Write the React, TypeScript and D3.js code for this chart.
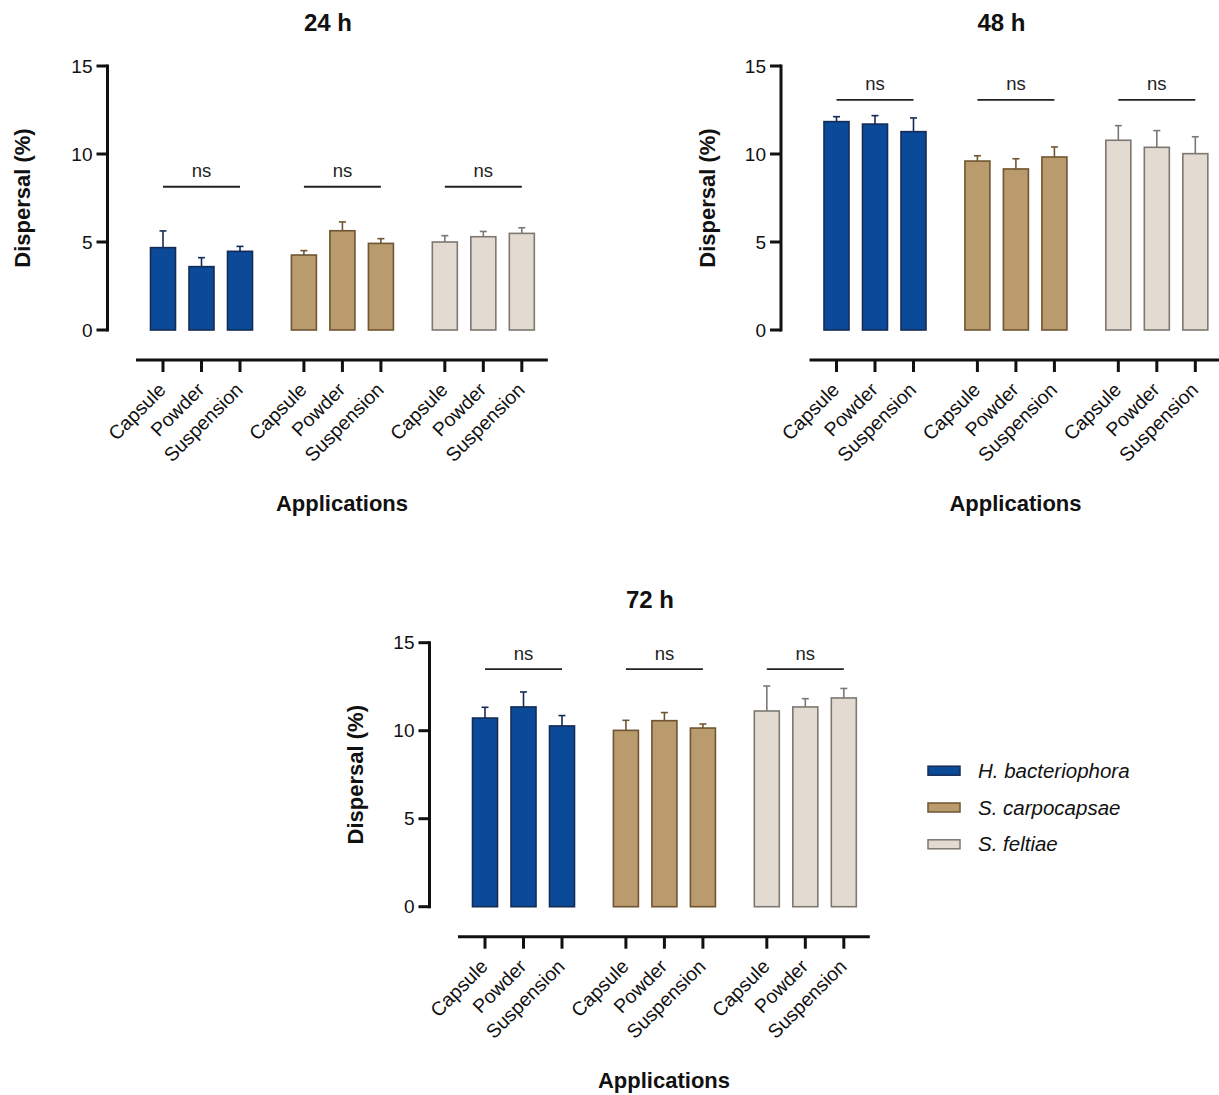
import React from "react";
import * as d3 from "d3";

// Categories and labels
const applications = ["Capsule", "Powder", "Suspension"];
const species = ["H. bacteriophora", "S. carpocapsae", "S. feltiae"];
const timepoints = ["24 h", "48 h", "72 h"];
const yTicks = [0, 5, 10, 15];

// Mean dispersal (%) per species (rows) and application (columns)
const mean24 = [
  [4.68, 3.6, 4.47],
  [4.26, 5.64, 4.92],
  [5.0, 5.3, 5.49],
];
const err24 = [
  [0.95, 0.51, 0.28],
  [0.25, 0.5, 0.27],
  [0.36, 0.3, 0.32],
];
const mean48 = [
  [11.84, 11.7, 11.27],
  [9.6, 9.15, 9.83],
  [10.78, 10.38, 10.02],
];
const err48 = [
  [0.28, 0.48, 0.78],
  [0.3, 0.58, 0.57],
  [0.83, 0.95, 0.96],
];
const mean72 = [
  [10.72, 11.35, 10.27],
  [10.02, 10.57, 10.15],
  [11.12, 11.35, 11.86],
];
const err72 = [
  [0.61, 0.85, 0.59],
  [0.57, 0.46, 0.23],
  [1.42, 0.47, 0.54],
];
// Height of the "ns" comparison bracket in each panel
const nsLevel = [8.14, 13.07, 13.5];
const nsLabel = "ns";

const fills = ["#0a4a98", "#b99b6e", "#e3dbd1"];
const strokes = ["#142c55", "#6f5531", "#7c7771"];

const FONT = "'Liberation Sans', Arial, Helvetica, sans-serif";

type PanelProps = {
  title: string;
  means: number[][];
  errs: number[][];
  ns: number;
  axisX: number;
  y0: number;
  yTitleX: number;
};

const Panel = ({ title, means, errs, ns, axisX, y0, yTitleX }: PanelProps) => {
  const y = d3.scaleLinear().domain([0, 15]).range([y0, y0 - 264]);
  const slot = 38.5;
  const groupStride = 3.66;
  const first = axisX + 55.5;
  const x = d3
    .scaleLinear()
    .domain([0, 1])
    .range([first, first + slot]);
  const pos = (g: number, i: number) => x(g * groupStride + i);
  const barW = 25;
  const xAxisY = y0 + 30;
  const lastPos = pos(species.length - 1, applications.length - 1);

  return (
    <g>
      <text
        x={axisX + 220.5}
        y={y(15) - 35}
        textAnchor="middle"
        fontFamily={FONT}
        fontWeight="bold"
        fontSize={24}
        fill="#111"
      >
        {title}
      </text>

      {/* y axis */}
      <line x1={axisX} x2={axisX} y1={y(15) - 1.5} y2={y(0) + 1.5} stroke="#111" strokeWidth={3} />
      {yTicks.map((t) => (
        <g key={t}>
          <line x1={axisX - 11} x2={axisX} y1={y(t)} y2={y(t)} stroke="#111" strokeWidth={3} />
          <text
            x={axisX - 15}
            y={y(t) + 6.5}
            textAnchor="end"
            fontFamily={FONT}
            fontSize={19}
            fill="#111"
          >
            {t}
          </text>
        </g>
      ))}
      <text
        transform={`translate(${yTitleX},${y(7.5)}) rotate(-90)`}
        textAnchor="middle"
        fontFamily={FONT}
        fontWeight="bold"
        fontSize={22}
        fill="#111"
      >
        Dispersal (%)
      </text>

      {/* bars with upper error bars */}
      {means.map((row, g) =>
        row.map((v, i) => {
          const cx = pos(g, i);
          const top = y(v);
          const et = y(v + errs[g][i]);
          return (
            <g key={`${g}-${i}`}>
              <line x1={cx} x2={cx} y1={top} y2={et} stroke={strokes[g]} strokeWidth={1.6} />
              <line x1={cx - 3.5} x2={cx + 3.5} y1={et} y2={et} stroke={strokes[g]} strokeWidth={1.6} />
              <rect
                x={cx - barW / 2}
                y={top}
                width={barW}
                height={y(0) - top}
                fill={fills[g]}
                stroke={strokes[g]}
                strokeWidth={1.6}
              />
            </g>
          );
        })
      )}

      {/* ns brackets */}
      {species.map((s, g) => (
        <g key={s}>
          <line
            x1={pos(g, 0)}
            x2={pos(g, 2)}
            y1={y(ns)}
            y2={y(ns)}
            stroke="#222"
            strokeWidth={1.8}
          />
          <text
            x={pos(g, 1)}
            y={y(ns) - 9.5}
            textAnchor="middle"
            fontFamily={FONT}
            fontSize={18.5}
            fill="#222"
          >
            {nsLabel}
          </text>
        </g>
      ))}

      {/* x axis */}
      <line x1={x(0) - 27} x2={lastPos + 26} y1={xAxisY} y2={xAxisY} stroke="#111" strokeWidth={3} />
      {species.map((s, g) =>
        applications.map((a, i) => {
          const cx = pos(g, i);
          return (
            <g key={`${s}-${a}`}>
              <line x1={cx} x2={cx} y1={xAxisY} y2={xAxisY + 12} stroke="#111" strokeWidth={3} />
              <text
                transform={`translate(${cx + 4},${xAxisY + 31}) rotate(-45)`}
                textAnchor="end"
                fontFamily={FONT}
                fontSize={19.5}
                fill="#111"
              >
                {a}
              </text>
            </g>
          );
        })
      )}
      <text
        x={axisX + 234.5}
        y={y0 + 181}
        textAnchor="middle"
        fontFamily={FONT}
        fontWeight="bold"
        fontSize={22}
        fill="#111"
      >
        Applications
      </text>
    </g>
  );
};

const Legend = ({ left, top }: { left: number; top: number }) => (
  <g>
    {species.map((s, g) => {
      const cy = top + g * 36.8;
      return (
        <g key={s}>
          <rect x={left} y={cy - 4.5} width={32} height={9} fill={fills[g]} stroke={strokes[g]} strokeWidth={1.5} />
          <text
            x={left + 50}
            y={cy + 7}
            fontFamily={FONT}
            fontStyle="italic"
            fontSize={20.5}
            fill="#111"
          >
            {s}
          </text>
        </g>
      );
    })}
  </g>
);

export default function App() {
  return (
    <div style={{ position: "absolute", left: 0, top: 0 }}>
      <svg width={1219} height={1095} viewBox="0 0 1219 1095" style={{ display: "block", background: "#fff" }}>
        <Panel title={timepoints[0]} means={mean24} errs={err24} ns={nsLevel[0]} axisX={107.5} y0={330} yTitleX={30} />
        <Panel title={timepoints[1]} means={mean48} errs={err48} ns={nsLevel[1]} axisX={781} y0={330} yTitleX={715} />
        <Panel title={timepoints[2]} means={mean72} errs={err72} ns={nsLevel[2]} axisX={429.5} y0={906.7} yTitleX={363} />
        <Legend left={928} top={770.7} />
      </svg>
    </div>
  );
}
